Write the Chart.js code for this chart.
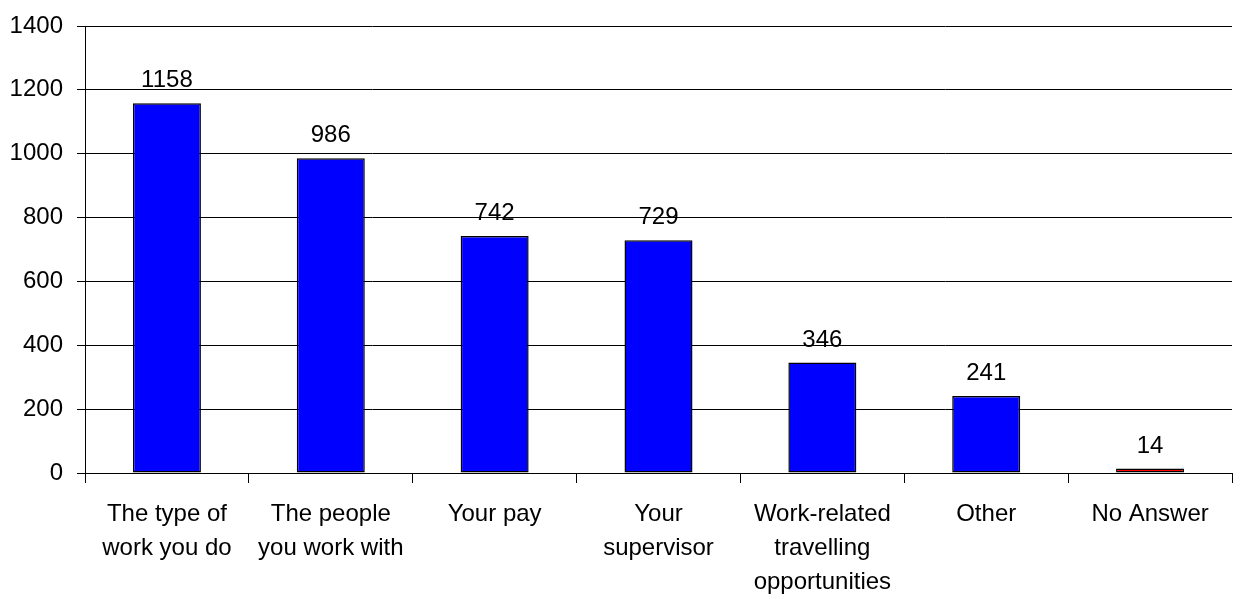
<!DOCTYPE html>
<html>
<head>
<meta charset="utf-8">
<script src="https://cdn.jsdelivr.net/npm/chart.js@4.4.1/dist/chart.umd.min.js"></script>
<style>
  html, body { margin: 0; padding: 0; background: #fff; }
  #wrap { width: 1242px; height: 599px; }
</style>
</head>
<body>
<div id="wrap"><canvas id="mycanvas" width="1242" height="599"></canvas></div>
<script>
var categories = [
  ['The type of', 'work you do'],
  ['The people', 'you work with'],
  ['Your pay'],
  ['Your', 'supervisor'],
  ['Work-related', 'travelling', 'opportunities'],
  ['Other'],
  ['No Answer']
];
var counts = [1158, 986, 742, 729, 346, 241, 14];
var barColors = ['#0000ff', '#0000ff', '#0000ff', '#0000ff', '#0000ff', '#0000ff', '#ff0000'];
var yTicks = [0, 200, 400, 600, 800, 1000, 1200, 1400];

Chart.defaults.font.family = "'Liberation Sans', Arial, sans-serif";
Chart.defaults.font.size = 24;
Chart.defaults.color = '#000';

// value written above each bar
var valueLabels = {
  id: 'valueLabels',
  afterDatasetsDraw: function(chart){
    var ctx = chart.ctx;
    var meta = chart.getDatasetMeta(0);
    ctx.save();
    ctx.font = "24px 'Liberation Sans', Arial, sans-serif";
    ctx.fillStyle = '#000';
    ctx.textAlign = 'center';
    ctx.textBaseline = 'alphabetic';
    meta.data.forEach(function(bar, i){
      ctx.fillText(String(counts[i]), bar.x, bar.y - 16);
    });
    ctx.restore();
  }
};

var ctx = document.getElementById('mycanvas');
var barGraph = new Chart(ctx, {
  type: 'bar',
  data: {
    labels: categories,
    datasets: [{
      data: counts,
      backgroundColor: barColors,
      borderColor: '#000',
      borderWidth: 1.5,
      borderSkipped: false,
      categoryPercentage: 1,
      barPercentage: 0.415
    }]
  },
  options: {
    responsive: false,
    animation: false,
    layout: { padding: { top: 26, right: 10, left: 0, bottom: 0 } },
    plugins: {
      legend: { display: false },
      tooltip: { enabled: false }
    },
    scales: {
      x: {
        grid: {
          offset: true,
          drawOnChartArea: false,
          drawTicks: true,
          tickLength: 10,
          color: '#000',
          lineWidth: 1
        },
        border: { display: true, color: '#000', width: 1 },
        ticks: {
          padding: 14,
          maxRotation: 0,
          autoSkip: false,
          font: { size: 24, lineHeight: '34px' }
        },
        afterFit: function(scale){ scale.height = 126; }
      },
      y: {
        min: 0,
        max: 1400,
        afterBuildTicks: function(scale){
          scale.ticks = yTicks.map(function(v){ return { value: v }; });
        },
        grid: {
          color: '#000',
          lineWidth: 1,
          tickLength: 8
        },
        border: { display: true, color: '#000', width: 1 },
        ticks: {
          padding: 14,
          font: { size: 24 },
          callback: function(v){ return String(v); }
        },
        afterFit: function(scale){
          scale.width = 85;
          scale.paddingTop = 0;
          scale.paddingBottom = 0;
        }
      }
    }
  },
  plugins: [valueLabels]
});
</script>
</body>
</html>
